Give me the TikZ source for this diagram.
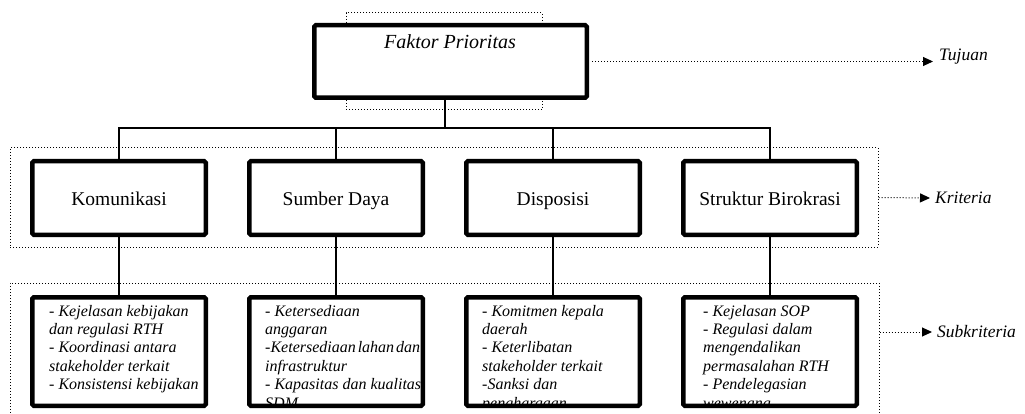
\documentclass[tikz,border=0pt]{standalone}
\usepackage{fontspec}
\setmainfont{Liberation Serif}
\usetikzlibrary{arrows.meta,calc}
\begin{document}
\begin{tikzpicture}[x=1pt,y=-1pt,
  dotline/.style={line width=1pt, dash pattern=on 1pt off 2pt},
  dotbox/.style={draw, dotline, inner sep=0pt},
  thickbox/.style={draw, line width=4.5pt, rounded corners=1.5pt, fill=white, inner sep=0pt},
  critbox/.style={thickbox, minimum width=173.5pt, minimum height=73.5pt, text height=16pt, text depth=2pt, font=\fontsize{19.5}{22}\selectfont},
  subbox/.style={draw, line width=4.5pt, rounded corners=1.5pt, inner sep=0pt, minimum width=173.5pt, minimum height=108.5pt},
  subtext/.style={inner sep=0pt, align=left, anchor=north west, font=\fontsize{16}{18.4}\selectfont\itshape},
  conn/.style={line width=1.3pt},
  lvl/.style={font=\fontsize{17.5}{20}\selectfont\itshape, inner sep=0pt},
  dotarrow/.style={dotline, -{Triangle[length=10pt,width=9pt]}}
]
\useasboundingbox (0,0) rectangle (1025,414);
\fill[white] (0,0) rectangle (1025,414);

% dotted group frames
\node[dotbox, minimum width=196pt, minimum height=97pt] (g0) at (444,61.5) {};
\node[dotbox, minimum width=868pt, minimum height=99pt] (g1) at (444,197.5) {};
\node[dotbox, minimum width=869pt, minimum height=200pt] (g2) at (444.5,383) {};

% top box
\node[thickbox, minimum width=272.5pt, minimum height=72.5pt] (top) at (450.5,61.5) {};
\node[font=\fontsize{20}{24}\selectfont\itshape, anchor=base, inner sep=0pt] (toptext) at (450,49) {Faktor Prioritas};

% criteria
\node[critbox] (k1) at (119,198) {Komunikasi};
\node[critbox] (k2) at (336,198) {Sumber Daya};
\node[critbox] (k3) at (553,198) {Disposisi};
\node[critbox] (k4) at (770,198) {Struktur Birokrasi};

% sub boxes
\node[subbox] (s1) at (119,351.5) {};
\node[subbox] (s2) at (336,351.5) {};
\node[subbox] (s3) at (553,351.5) {};
\node[subbox] (s4) at (770,351.5) {};

\begin{scope}
\clip ([xshift=2pt,yshift=-2pt]s1.north west) rectangle ([xshift=-2pt,yshift=2pt]s1.south east);
\node[subtext] (t1) at (49,303) {\strut- Kejelasan kebijakan\\dan regulasi RTH\\- Koordinasi antara\\stakeholder terkait\\- Konsistensi kebijakan};
\end{scope}
\begin{scope}
\clip ([xshift=2pt,yshift=-2pt]s2.north west) rectangle ([xshift=-2pt,yshift=2pt]s2.south east);
\node[subtext] (t2) at (265,303) {\strut- Ketersediaan\\anggaran\\-Ketersediaan\hspace{0.12em}lahan\hspace{0.12em}dan\\infrastruktur\\- Kapasitas dan kualitas\\SDM};
\end{scope}
\begin{scope}
\clip ([xshift=2pt,yshift=-2pt]s3.north west) rectangle ([xshift=-2pt,yshift=2pt]s3.south east);
\node[subtext] (t3) at (482,303) {\strut- Komitmen kepala\\daerah\\- Keterlibatan\\stakeholder terkait\\-Sanksi dan\\penghargaan};
\end{scope}
\begin{scope}
\clip ([xshift=2pt,yshift=-2pt]s4.north west) rectangle ([xshift=-2pt,yshift=2pt]s4.south east);
\node[subtext] (t4) at (703,303) {\strut- Kejelasan SOP\\- Regulasi dalam\\mengendalikan\\permasalahan RTH\\- Pendelegasian\\wewenang};
\end{scope}

% connectors
\coordinate (j) at (445,128);
\draw[conn] (top.south -| j) -- (j);
\draw[conn] (k1.north) |- (k4.north |- j) -- (k4.north);
\draw[conn] (k2.north) -- (k2.north |- j);
\draw[conn] (k3.north) -- (k3.north |- j);
\draw[conn] (k1.south) -- (s1.north);
\draw[conn] (k2.south) -- (s2.north);
\draw[conn] (k3.south) -- (s3.north);
\draw[conn] (k4.south) -- (s4.north);

% level labels
\node[lvl, anchor=base west] (tuj) at (939,61) {Tujuan};
\node[lvl, anchor=west] (kri) at (935,198) {Kriteria};
\node[lvl, anchor=west] (sbk) at (937,332) {Subkriteria};
\draw[dotarrow] ([xshift=3pt]top.east) -- ([xshift=-6pt]top.east -| tuj.west);
\draw[dotarrow] (g1.east) -- ([xshift=-5pt]kri.west);
\draw[dotarrow] (g2.east |- sbk.west) -- ([xshift=-5pt]sbk.west);
\end{tikzpicture}
\end{document}
